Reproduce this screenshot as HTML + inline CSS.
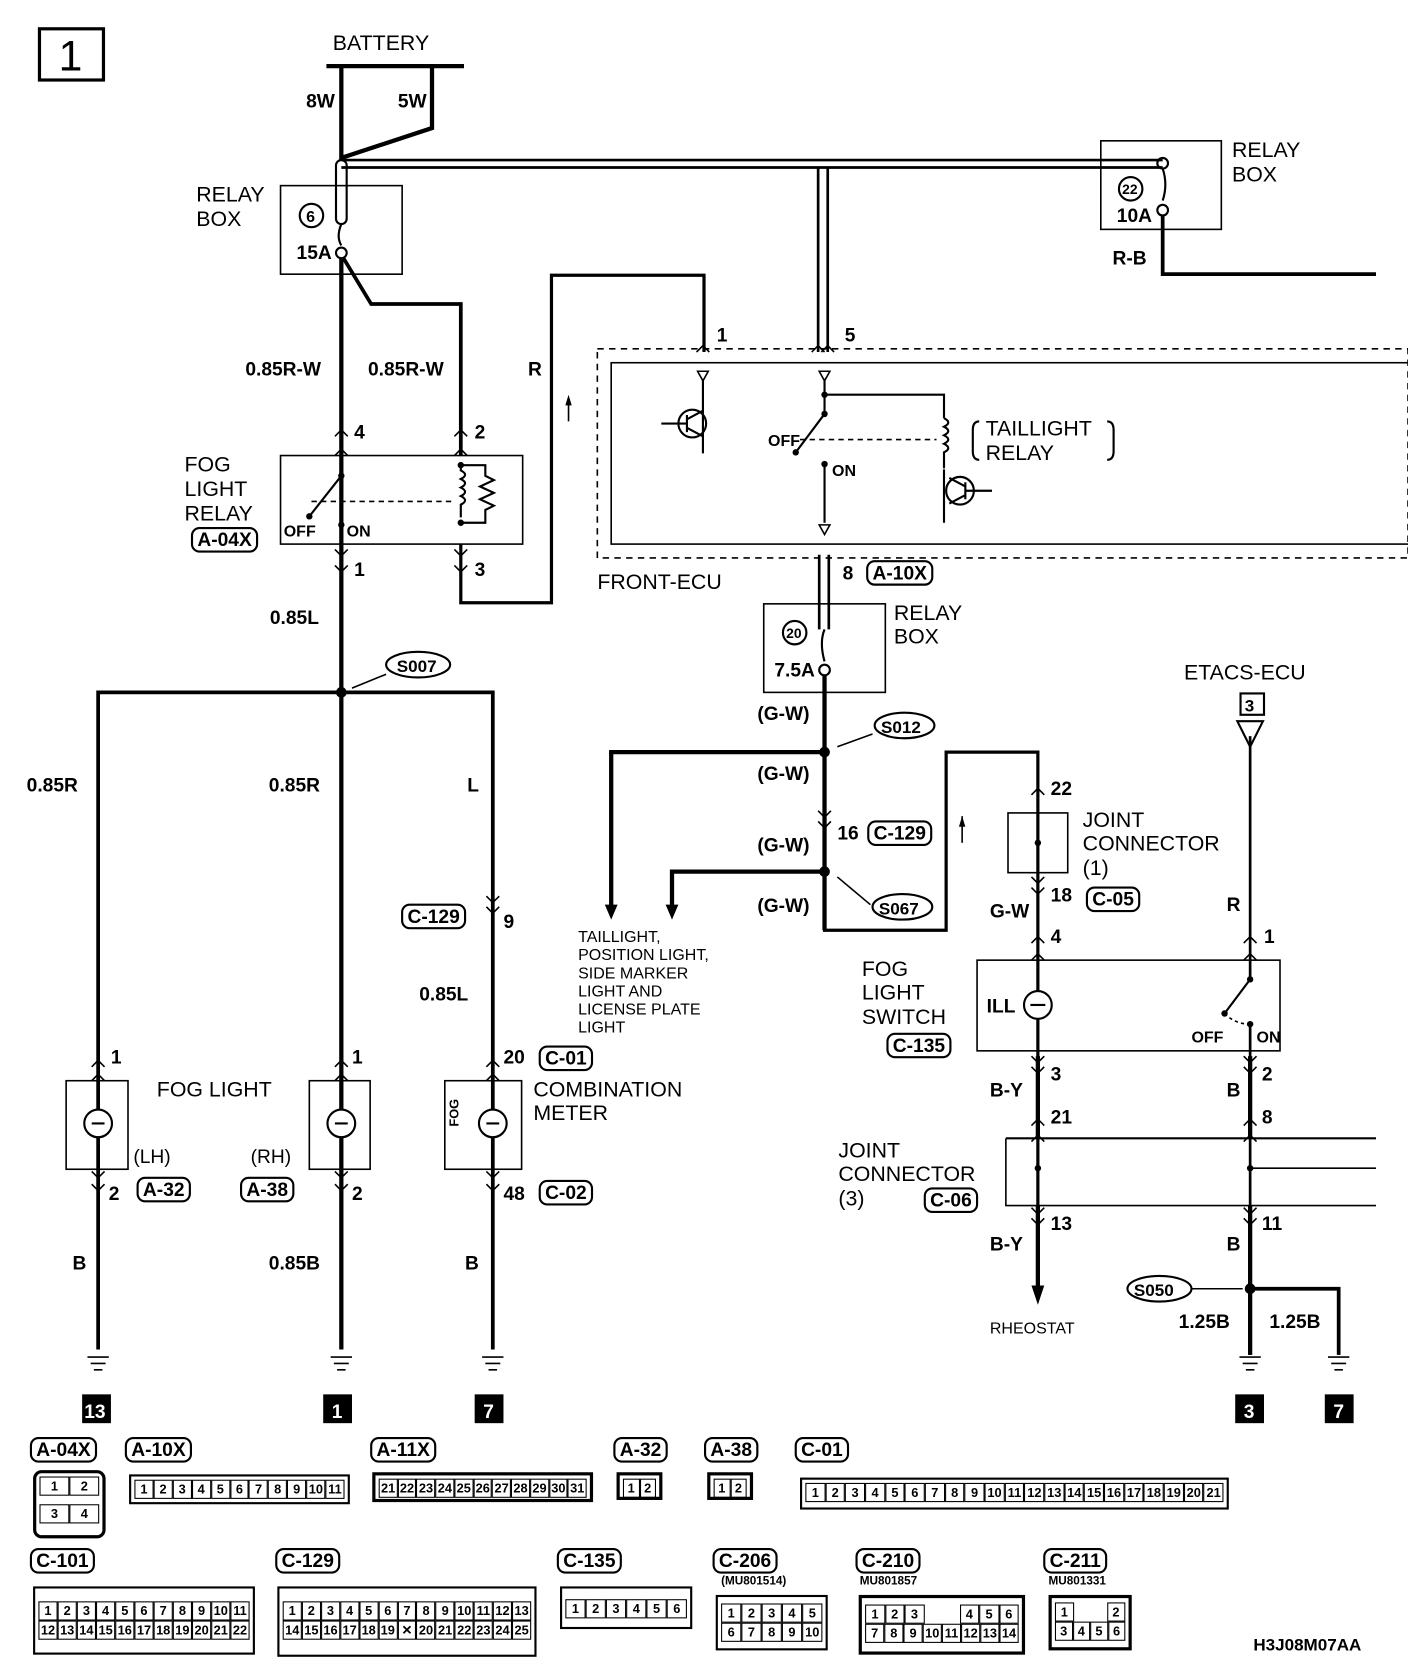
<!DOCTYPE html>
<html><head><meta charset="utf-8"><style>
html,body{margin:0;padding:0;background:#fff;}
#w{position:absolute;left:0;top:0;width:1320px;height:1556px;transform:scale(1.06667,1.06684);transform-origin:0 0;font-family:"Liberation Sans",sans-serif;}
svg{position:absolute;left:0;top:0;}
text{font-family:"Liberation Sans",sans-serif;fill:#000;}
text.wt{fill:#fff;}
.c{font-size:18px;font-weight:bold;}
.n{font-size:20px;}
.lab{position:absolute;border:2px solid #000;border-radius:8px;font:bold 18px/18px "Liberation Sans",sans-serif;padding:1px 4px;white-space:nowrap;}
.cn{position:absolute;border:2px solid #000;display:flex;flex-direction:column;padding:3px;box-sizing:border-box;}
.r{display:flex;}
.r span{border:1.5px solid #000;font:bold 12px/16px "Liberation Sans",sans-serif;text-align:center;flex:1;min-width:0;}
</style></head><body><div id="w">
<svg width="1320" height="1556" viewBox="0 0 1320 1556">
<g fill="none" stroke="#000">
<rect x="37" y="27" width="60" height="48" stroke-width="3"/>
<line x1="306" y1="62" x2="435" y2="62" stroke-width="4"/>
<polyline points="320,62 320,148 405,120 405,62" stroke-width="4"/>
<line x1="320" y1="150" x2="1090" y2="150" stroke-width="2.5"/>
<line x1="320" y1="157" x2="1090" y2="157" stroke-width="2.5"/>
<line x1="767" y1="157" x2="767" y2="330" stroke-width="2.5"/>
<line x1="776" y1="157" x2="776" y2="330" stroke-width="2.5"/>
<rect x="263" y="174" width="114" height="83" stroke-width="1.5"/>
<rect x="315" y="150" width="10" height="60" rx="5" stroke-width="2"/>
<path d="M320,210 q-5,12 0,20" stroke-width="2"/>
<circle cx="320" cy="237" r="5" stroke-width="2"/>
<circle cx="292" cy="202" r="11" stroke-width="2"/>
<rect x="1032" y="132" width="113" height="83" stroke-width="1.5"/>
<circle cx="1090" cy="153" r="5" stroke-width="2"/>
<path d="M1090,158 q5,15 0,30" stroke-width="2"/>
<circle cx="1090" cy="197" r="5" stroke-width="2"/>
<circle cx="1060" cy="177" r="11" stroke-width="2"/>
<polyline points="1090,202 1090,257 1290,257" stroke-width="3.5"/>
<line x1="320" y1="242" x2="320" y2="1265" stroke-width="4"/>
<polyline points="322,242 348,285 432,285 432,427" stroke-width="3.5"/>
<polyline points="432,510 432,565 517,565 517,258 660,258 660,330" stroke-width="3"/>
<line x1="533" y1="375" x2="533" y2="395" stroke-width="1.5"/>
<rect x="263" y="427" width="227" height="83" stroke-width="1.5"/>
<line x1="320" y1="427" x2="320" y2="446" stroke-width="2"/>
<line x1="320" y1="446" x2="290" y2="484" stroke-width="2"/>
<line x1="292" y1="470" x2="425" y2="470" stroke-width="1.5" stroke-dasharray="5,4"/>
<line x1="320" y1="492" x2="320" y2="510" stroke-width="2"/>
<path d="M432,433 v8 q8,4 0,8 q8,4 0,8 q8,4 0,8 q8,4 0,8 v12" stroke-width="2"/>
<polyline points="432,436 455,436 455,446 463,450 450,456 463,462 450,468 463,474 455,478 455,490 432,490" stroke-width="2"/>
<rect x="560" y="327" width="760" height="196" stroke-width="1.5" stroke-dasharray="6,5"/>
<rect x="573" y="340" width="760" height="170" stroke-width="1.5"/>
<line x1="659" y1="355" x2="659" y2="425" stroke-width="2"/>
<path d="M654,348 h10 l-5,9z" stroke-width="1.5"/>
<circle cx="649" cy="397" r="13" stroke-width="2"/>
<path d="M644,389 v16 M644,393 l15,-8 M644,401 l15,8" stroke-width="2"/>
<line x1="620" y1="397" x2="644" y2="397" stroke-width="2"/>
<line x1="773" y1="355" x2="773" y2="388" stroke-width="2"/>
<path d="M768,348 h10 l-5,9z" stroke-width="1.5"/>
<polyline points="773,370 885,370 885,392" stroke-width="2"/>
<line x1="773" y1="388" x2="746" y2="424" stroke-width="2"/>
<line x1="750" y1="412" x2="878" y2="412" stroke-width="1.5" stroke-dasharray="5,4"/>
<line x1="773" y1="435" x2="773" y2="490" stroke-width="2"/>
<path d="M768,492 h10 l-5,9z" stroke-width="1.5"/>
<path d="M885,392 q8,4 0,8 q8,4 0,8 q8,4 0,8 q8,4 0,8 v15" stroke-width="2"/>
<circle cx="900" cy="460" r="13" stroke-width="2"/>
<path d="M905,452 v16 M905,456 l-15,-8 M905,464 l-15,8" stroke-width="2"/>
<line x1="885" y1="440" x2="885" y2="490" stroke-width="2"/>
<line x1="905" y1="460" x2="930" y2="460" stroke-width="2"/>
<path d="M918,395 q-6,0 -6,8 v20 q0,8 6,8 M1038,395 q6,0 6,8 v20 q0,8 -6,8" stroke-width="2"/>
<line x1="768" y1="520" x2="768" y2="590" stroke-width="2.5"/>
<line x1="777" y1="520" x2="777" y2="590" stroke-width="2.5"/>
<rect x="716" y="566" width="114" height="83" stroke-width="1.5"/>
<circle cx="745" cy="593" r="11" stroke-width="2"/>
<path d="M773,590 q-5,12 0,30" stroke-width="2"/>
<circle cx="773" cy="628" r="5" stroke-width="2"/>
<line x1="773" y1="633" x2="773" y2="872" stroke-width="4"/>
<polyline points="773,705 573,705 573,850" stroke-width="4"/>
<polyline points="773,817 630,817 630,850" stroke-width="4"/>
<polyline points="773,817 773,872 887,872 887,705 973,705 973,762" stroke-width="3"/>
<line x1="902" y1="765" x2="902" y2="790" stroke-width="1.5"/>
<rect x="945" y="762" width="56" height="56" stroke-width="1.5"/>
<line x1="973" y1="762" x2="973" y2="1205" stroke-width="3"/>
<line x1="973" y1="990" x2="973" y2="1067" stroke-width="4"/>
<line x1="973" y1="1130" x2="973" y2="1205" stroke-width="4"/>
<rect x="916" y="900" width="284" height="85" stroke-width="1.5"/>
<circle cx="973" cy="942" r="13" fill="#fff" stroke-width="2"/>
<path d="M966,942 h14" stroke-width="2"/>
<polyline points="943,1067 1290,1067" stroke-width="2"/>
<polyline points="943,1067 943,1130 1290,1130" stroke-width="1.5"/>
<line x1="1172" y1="1095" x2="1290" y2="1095" stroke-width="1.5"/>
<line x1="1172" y1="690" x2="1172" y2="918" stroke-width="2.5"/>
<line x1="1172" y1="918" x2="1148" y2="950" stroke-width="2"/>
<path d="M1148,950 q10,10 24,10" stroke-width="1.5" stroke-dasharray="3,3"/>
<line x1="1172" y1="960" x2="1172" y2="1270" stroke-width="2.5"/>
<line x1="1172" y1="990" x2="1172" y2="1067" stroke-width="4"/>
<line x1="1172" y1="1130" x2="1172" y2="1270" stroke-width="4"/>
<polyline points="1172,1208 1255,1208 1255,1270" stroke-width="3.5"/>
<rect x="1163" y="650" width="22" height="20" stroke-width="2"/>
<path d="M1160,676 h24 l-12,24z" stroke-width="2"/>
<polyline points="92,1265 92,649 462,649 462,1265" stroke-width="3.5"/>
<rect x="62" y="1013" width="58" height="83" stroke-width="1.5"/>
<rect x="290" y="1013" width="57" height="83" stroke-width="1.5"/>
<rect x="417" y="1013" width="72" height="83" stroke-width="1.5"/>
<circle cx="92" cy="1053" r="13" fill="#fff" stroke-width="2"/>
<circle cx="320" cy="1053" r="13" fill="#fff" stroke-width="2"/>
<circle cx="462" cy="1053" r="13" fill="#fff" stroke-width="2"/>
<path d="M86,1053 h12 M314,1053 h12 M456,1053 h12" stroke-width="2"/>
<g stroke-width="1.5">
<path d="M82,1272h20M85,1278h14M88,1284h8"/><path d="M310,1272h20M313,1278h14M316,1284h8"/><path d="M452,1272h20M455,1278h14M458,1284h8"/><path d="M1162,1272h20M1165,1278h14M1168,1284h8"/><path d="M1245,1272h20M1248,1278h14M1251,1284h8"/>
</g>
<g stroke-width="1.5">
<path d="M314,409l6,-6 6,6M426,409l6,-6 6,6M314,427l6,-6 6,6M426,427l6,-6 6,6M314,515l6,6 6,-6M426,515l6,6 6,-6M314,530l6,6 6,-6M426,530l6,6 6,-6"/>
<path d="M653,330l6,-6 6,6M761,330l6,-6 6,6M770,330l6,-6 6,6"/>
<path d="M767,760l6,6 6,-6M767,770l6,6 6,-6M967,745l6,-6 6,6M967,822l6,6 6,-6M967,832l6,6 6,-6M967,884l6,-6 6,6M967,900l6,-6 6,6M967,990l6,6 6,-6M967,1000l6,6 6,-6M967,1055l6,-6 6,6M967,1070l6,-6 6,6M967,1132l6,6 6,-6M967,1142l6,6 6,-6"/>
<path d="M1166,884l6,-6 6,6M1166,900l6,-6 6,6M1166,990l6,6 6,-6M1166,1000l6,6 6,-6M1166,1055l6,-6 6,6M1166,1070l6,-6 6,6M1166,1132l6,6 6,-6M1166,1142l6,6 6,-6"/>
<path d="M86,1000l6,-6 6,6M86,1013l6,-6 6,6M86,1098l6,6 6,-6M86,1110l6,6 6,-6M314,1000l6,-6 6,6M314,1013l6,-6 6,6M314,1098l6,6 6,-6M314,1110l6,6 6,-6M456,1000l6,-6 6,6M456,1013l6,-6 6,6M456,1098l6,6 6,-6M456,1110l6,6 6,-6M456,840l6,6 6,-6M456,850l6,6 6,-6"/>
</g>
<ellipse cx="392" cy="623" rx="30" ry="12" stroke-width="2"/>
<ellipse cx="848" cy="680" rx="28" ry="12" stroke-width="2"/>
<ellipse cx="846" cy="850" rx="28" ry="12" stroke-width="2"/>
<ellipse cx="1087" cy="1208" rx="30" ry="12" stroke-width="2"/>
<path d="M362,632 L330,645 M818,688 L785,700 M816,848 L785,822 M1117,1208 L1165,1208" stroke-width="1.5"/>
</g>
<g fill="#000">
<circle cx="320" cy="649" r="5"/><circle cx="773" cy="705" r="5"/><circle cx="773" cy="817" r="5"/><circle cx="1172" cy="1208" r="5"/>
<circle cx="320" cy="446" r="3"/><circle cx="290" cy="484" r="3"/><circle cx="320" cy="492" r="3"/><circle cx="432" cy="436" r="3"/><circle cx="432" cy="490" r="3"/>
<circle cx="773" cy="370" r="3"/><circle cx="773" cy="388" r="3"/><circle cx="746" cy="424" r="3"/><circle cx="773" cy="435" r="3"/>
<circle cx="1172" cy="918" r="3"/><circle cx="1148" cy="950" r="3"/><circle cx="1172" cy="960" r="3"/>
<circle cx="973" cy="790" r="3"/><circle cx="973" cy="1095" r="3"/><circle cx="1172" cy="1095" r="3"/>
<path d="M567,848h12l-6,14z M624,848h12l-6,14z M967,1205h12l-6,18z M530,380l3,-10 3,10z M899,775l3,-10 3,10z"/>
<rect x="77" y="1307" width="27" height="27"/><rect x="303" y="1307" width="27" height="27"/><rect x="445" y="1307" width="27" height="27"/><rect x="1158" y="1307" width="27" height="27"/><rect x="1242" y="1307" width="27" height="27"/>
</g>
<g font-size="40"><text x="55" y="66">1</text></g>
<g class="n">
<text x="312" y="47">BATTERY</text>
<text x="184" y="189">RELAY</text><text x="184" y="212">BOX</text>
<text x="1155" y="147">RELAY</text><text x="1155" y="170">BOX</text>
<text x="838" y="581">RELAY</text><text x="838" y="603">BOX</text>
<text x="173" y="442">FOG</text><text x="173" y="465">LIGHT</text><text x="173" y="488">RELAY</text>
<text x="924" y="408">TAILLIGHT</text><text x="924" y="431">RELAY</text>
<text x="560" y="552">FRONT-ECU</text>
<text x="1110" y="637">ETACS-ECU</text>
<text x="1015" y="775">JOINT</text><text x="1015" y="797">CONNECTOR</text><text x="1015" y="820">(1)</text>
<text x="808" y="915">FOG</text><text x="808" y="937">LIGHT</text><text x="808" y="960">SWITCH</text>
<text x="786" y="1085">JOINT</text><text x="786" y="1107">CONNECTOR</text><text x="786" y="1130">(3)</text>
<text x="147" y="1028">FOG LIGHT</text>
<text x="500" y="1028">COMBINATION</text><text x="500" y="1050">METER</text>
<text x="125" y="1090" font-size="18">(LH)</text><text x="235" y="1090" font-size="18">(RH)</text>
</g>
<g font-size="15">
<text x="542" y="883">TAILLIGHT,</text><text x="542" y="900">POSITION LIGHT,</text><text x="542" y="917">SIDE MARKER</text><text x="542" y="934">LIGHT AND</text><text x="542" y="951">LICENSE PLATE</text><text x="542" y="968">LIGHT</text>
<text x="928" y="1250">RHEOSTAT</text>
</g>
<g class="c">
<text x="287" y="101">8W</text><text x="373" y="101">5W</text>
<text x="287" y="208" font-size="15">6</text><text x="1052" y="182" font-size="13">22</text><text x="737" y="598" font-size="13">20</text>
<text x="278" y="243">15A</text><text x="1047" y="208">10A</text><text x="726" y="634">7.5A</text>
<text x="1043" y="248">R-B</text>
<text x="230" y="352">0.85R-W</text><text x="345" y="352">0.85R-W</text><text x="495" y="352">R</text>
<text x="332" y="411">4</text><text x="445" y="411">2</text><text x="332" y="540">1</text><text x="445" y="540">3</text>
<text x="266" y="503" font-size="15">OFF</text><text x="325" y="503" font-size="15">ON</text>
<text x="672" y="320">1</text><text x="792" y="320">5</text>
<text x="720" y="418" font-size="15">OFF</text><text x="780" y="446" font-size="15">ON</text>
<text x="790" y="543">8</text>
<text x="253" y="585">0.85L</text>
<text x="710" y="675">(G-W)</text><text x="710" y="731">(G-W)</text><text x="710" y="798">(G-W)</text><text x="710" y="855">(G-W)</text>
<text x="785" y="787">16</text>
<text x="985" y="745">22</text><text x="985" y="845">18</text><text x="928" y="860">G-W</text><text x="985" y="884">4</text><text x="1150" y="854">R</text><text x="1185" y="884">1</text>
<text x="925" y="949">ILL</text><text x="1117" y="977" font-size="15">OFF</text><text x="1178" y="977" font-size="15">ON</text>
<text x="985" y="1013">3</text><text x="928" y="1028">B-Y</text><text x="985" y="1053">21</text>
<text x="1183" y="1013">2</text><text x="1150" y="1028">B</text><text x="1183" y="1053">8</text>
<text x="985" y="1153">13</text><text x="928" y="1172">B-Y</text><text x="1183" y="1153">11</text><text x="1150" y="1172">B</text>
<text x="1105" y="1245">1.25B</text><text x="1190" y="1245">1.25B</text>
<text x="25" y="742">0.85R</text><text x="252" y="742">0.85R</text><text x="438" y="742">L</text>
<text x="472" y="870">9</text><text x="393" y="938">0.85L</text>
<text x="104" y="997">1</text><text x="330" y="997">1</text><text x="472" y="997">20</text>
<text x="102" y="1125">2</text><text x="330" y="1125">2</text><text x="472" y="1125">48</text>
<text x="68" y="1190">B</text><text x="252" y="1190">0.85B</text><text x="436" y="1190">B</text>
<text x="372" y="630" font-size="16">S007</text><text x="826" y="687" font-size="16">S012</text><text x="824" y="857" font-size="16">S067</text><text x="1063" y="1215" font-size="16">S050</text>
<text x="1167" y="667" font-size="16">3</text>
<text x="1175" y="1547" font-size="16">H3J08M07AA</text>
<text x="424" y="1050" font-size="12" transform="rotate(-90 430 1050)">FOG</text>
<text class="wt" x="79" y="1329">13</text><text class="wt" x="311" y="1329">1</text><text class="wt" x="453" y="1329">7</text><text class="wt" x="1166" y="1329">3</text><text class="wt" x="1250" y="1329">7</text>
</g>
</svg>
<span class="lab" style="left:179px;top:494px">A-04X</span>
<span class="lab" style="left:812px;top:525px">A-10X</span>
<span class="lab" style="left:813px;top:769px">C-129</span>
<span class="lab" style="left:1018px;top:831px">C-05</span>
<span class="lab" style="left:831px;top:968px">C-135</span>
<span class="lab" style="left:866px;top:1113px">C-06</span>
<span class="lab" style="left:376px;top:847px">C-129</span>
<span class="lab" style="left:505px;top:980px">C-01</span>
<span class="lab" style="left:505px;top:1106px">C-02</span>
<span class="lab" style="left:128px;top:1103px">A-32</span>
<span class="lab" style="left:225px;top:1103px">A-38</span>
<span class="lab" style="left:28px;top:1347px">A-04X</span>
<span class="lab" style="left:117px;top:1347px">A-10X</span>
<span class="lab" style="left:347px;top:1347px">A-11X</span>
<span class="lab" style="left:575px;top:1347px">A-32</span>
<span class="lab" style="left:660px;top:1347px">A-38</span>
<span class="lab" style="left:745px;top:1347px">C-01</span>
<span class="lab" style="left:28px;top:1451px">C-101</span>
<span class="lab" style="left:258px;top:1451px">C-129</span>
<span class="lab" style="left:522px;top:1451px">C-135</span>
<span class="lab" style="left:668px;top:1451px">C-206</span>
<span class="lab" style="left:802px;top:1451px">C-210</span>
<span class="lab" style="left:978px;top:1451px">C-211</span>
<div style="position:absolute;left:676px;top:1476px;font:bold 11px 'Liberation Sans',sans-serif">(MU801514)</div>
<div style="position:absolute;left:806px;top:1476px;font:bold 11px 'Liberation Sans',sans-serif">MU801857</div>
<div style="position:absolute;left:983px;top:1476px;font:bold 11px 'Liberation Sans',sans-serif">MU801331</div>
<div class="cn" style="left:31px;top:1378px;width:68px;height:64px;border-radius:8px;border-width:3px"><div class="r"><span>1</span><span>2</span></div><div style="height:8px"></div><div class="r"><span>3</span><span>4</span></div></div>
<div class="cn" style="left:121px;top:1382px;width:207px;height:28px"><div class="r"><span>1</span><span>2</span><span>3</span><span>4</span><span>5</span><span>6</span><span>7</span><span>8</span><span>9</span><span>10</span><span>11</span></div></div>
<div class="cn" style="left:349px;top:1380px;width:207px;height:28px;border-width:3px"><div class="r"><span>21</span><span>22</span><span>23</span><span>24</span><span>25</span><span>26</span><span>27</span><span>28</span><span>29</span><span>30</span><span>31</span></div></div>
<div class="cn" style="left:578px;top:1380px;width:43px;height:26px;border-width:3px"><div class="r"><span>1</span><span>2</span></div></div>
<div class="cn" style="left:663px;top:1380px;width:43px;height:26px;border-width:3px"><div class="r"><span>1</span><span>2</span></div></div>
<div class="cn" style="left:750px;top:1385px;width:402px;height:30px"><div class="r"><span>1</span><span>2</span><span>3</span><span>4</span><span>5</span><span>6</span><span>7</span><span>8</span><span>9</span><span>10</span><span>11</span><span>12</span><span>13</span><span>14</span><span>15</span><span>16</span><span>17</span><span>18</span><span>19</span><span>20</span><span>21</span></div></div>
<div class="cn" style="left:31px;top:1487px;width:208px;height:64px;padding-top:12px"><div class="r"><span>1</span><span>2</span><span>3</span><span>4</span><span>5</span><span>6</span><span>7</span><span>8</span><span>9</span><span>10</span><span>11</span></div><div class="r"><span>12</span><span>13</span><span>14</span><span>15</span><span>16</span><span>17</span><span>18</span><span>19</span><span>20</span><span>21</span><span>22</span></div></div>
<div class="cn" style="left:260px;top:1487px;width:243px;height:66px;padding-top:12px"><div class="r"><span>1</span><span>2</span><span>3</span><span>4</span><span>5</span><span>6</span><span>7</span><span>8</span><span>9</span><span>10</span><span>11</span><span>12</span><span>13</span></div><div class="r"><span>14</span><span>15</span><span>16</span><span>17</span><span>18</span><span>19</span><span>✕</span><span>20</span><span>21</span><span>22</span><span>23</span><span>24</span><span>25</span></div></div>
<div class="cn" style="left:525px;top:1487px;width:124px;height:40px;padding-top:10px"><div class="r"><span>1</span><span>2</span><span>3</span><span>4</span><span>5</span><span>6</span></div></div>
<div class="cn" style="left:671px;top:1495px;width:105px;height:52px;padding-top:6px"><div class="r"><span>1</span><span>2</span><span>3</span><span>4</span><span>5</span></div><div class="r"><span>6</span><span>7</span><span>8</span><span>9</span><span>10</span></div></div>
<div class="cn" style="left:805px;top:1495px;width:156px;height:56px;border-width:3px;padding-top:6px"><div class="r"><span>1</span><span>2</span><span>3</span><span style="border:0"></span><span style="border:0"></span><span>4</span><span>5</span><span>6</span></div><div class="r"><span>7</span><span>8</span><span>9</span><span>10</span><span>11</span><span>12</span><span>13</span><span>14</span></div></div>
<div class="cn" style="left:983px;top:1495px;width:78px;height:52px;border-width:3px;padding-top:4px"><div class="r"><span>1</span><span style="border:0"></span><span style="border:0"></span><span>2</span></div><div class="r"><span>3</span><span>4</span><span>5</span><span>6</span></div></div>
</div></body></html>
